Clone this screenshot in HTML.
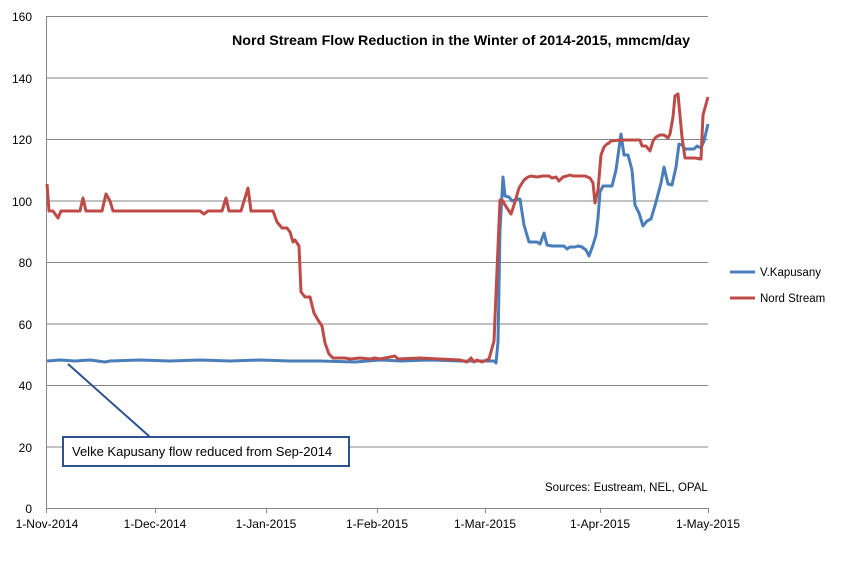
<!DOCTYPE html>
<html><head><meta charset="utf-8"><style>body{margin:0;background:#fff}</style></head><body>
<svg width="843" height="572" xmlns="http://www.w3.org/2000/svg" font-family="Liberation Sans, sans-serif">
<g stroke="#868686" stroke-width="1">
<line x1="46" y1="16.5" x2="708" y2="16.5"/><line x1="46" y1="78" x2="708" y2="78"/>
<line x1="46" y1="139.5" x2="708" y2="139.5"/><line x1="46" y1="201" x2="708" y2="201"/>
<line x1="46" y1="262.5" x2="708" y2="262.5"/><line x1="46" y1="324" x2="708" y2="324"/>
<line x1="46" y1="385.5" x2="708" y2="385.5"/><line x1="46" y1="447" x2="708" y2="447"/>
<line x1="46" y1="508.5" x2="708" y2="508.5"/><line x1="46.5" y1="16" x2="46.5" y2="509"/>
<line x1="46.5" y1="508" x2="46.5" y2="513"/><line x1="155.5" y1="508" x2="155.5" y2="513"/><line x1="266.5" y1="508" x2="266.5" y2="513"/><line x1="377.5" y1="508" x2="377.5" y2="513"/><line x1="485.5" y1="508" x2="485.5" y2="513"/><line x1="600.5" y1="508" x2="600.5" y2="513"/><line x1="708.5" y1="508" x2="708.5" y2="513"/>
</g>
<g font-size="12" text-anchor="end" fill="#000">
<text x="32" y="21">160</text><text x="32" y="83">140</text><text x="32" y="144">120</text><text x="32" y="206">100</text><text x="32" y="267">80</text><text x="32" y="329">60</text><text x="32" y="390">40</text><text x="32" y="452">20</text><text x="32" y="513">0</text>
</g>
<g font-size="12" text-anchor="middle">
<text x="47" y="528">1-Nov-2014</text><text x="155" y="528">1-Dec-2014</text><text x="266" y="528">1-Jan-2015</text><text x="377" y="528">1-Feb-2015</text><text x="485" y="528">1-Mar-2015</text><text x="600" y="528">1-Apr-2015</text><text x="708" y="528">1-May-2015</text>
</g>
<text x="232" y="45" font-size="14" font-weight="bold" textLength="458" lengthAdjust="spacingAndGlyphs">Nord Stream Flow Reduction in the Winter of 2014-2015, mmcm/day</text>
<text x="545" y="491" font-size="11.5">Sources: Eustream, NEL, OPAL</text>
<polyline fill="none" stroke="#4a7ebb" stroke-width="3" stroke-linejoin="round" points="47,361 60,360 75,361 90,360 105,362 110,361 140,360 170,361 200,360 230,361 260,360 290,361 320,361 355,362 380,360 400,361 430,360 460,361 480,361 494,361 496,363 498,342 500,230 503,177 505,196 509,197 512,201 517,199 520,199 524,225 529,242 537,242 540,244 544,233 547,245 552,246 564,246 567,249 570,247 575,247 578,246 582,247 586,250 589,256 593,245 596,235 598,218 600,192 603,186 612,186 616,170 621,134 624,155 628,155 632,170 635,205 639,213 643,226 647,221 651,219 656,202 661,183 664,167 668,184 672,185 676,167 679,144 682,145 685,149 694,149 697,146 701,148 704,141 708,124"/>
<polyline fill="none" stroke="#be4b48" stroke-width="3" stroke-linejoin="round" points="47,184 49,211 53,211 58,218 61,211 80,211 83,198 86,211 102,211 106,194 110,201 113,211 200,211 204,214 208,211 222,211 226,198 229,211 241,211 248,188 251,211 273,211 277,222 282,228 287,228 290,232 293,242 295,240 299,246 301,292 305,297 310,297 314,313 318,320 322,326 325,343 329,354 333,358 345,358 350,359 360,358 370,359 375,358 380,359 395,356 398,359 420,358 440,359 460,360 467,362 471,358 474,362 477,360 482,362 489,359 494,341 500,200 503,201 505,205 511,214 514,205 519,188 524,180 528,177 531,176 537,177 543,176 549,176 552,178 556,177 559,181 563,177 567,176 570,175 573,176 580,176 585,176 590,178 593,183 595,203 598,190 601,155 604,147 607,144 609,143 611,141 620,140 640,140 642,146 646,146 650,151 653,141 656,137 660,135 664,135 668,138 670,134 673,117 675,96 678,94 682,137 685,158 695,158 701,159 703,115 708,97"/>
<line x1="68" y1="364" x2="150" y2="437" stroke="#2f528f" stroke-width="2"/>
<rect x="63" y="437" width="286" height="29" fill="#fff" stroke="#2f528f" stroke-width="2"/>
<text x="72" y="456" font-size="13">Velke Kapusany flow reduced from Sep-2014</text>
<line x1="730" y1="272" x2="755" y2="272" stroke="#4a7ebb" stroke-width="3"/>
<text x="760" y="276" font-size="11.5">V.Kapusany</text>
<line x1="730" y1="298" x2="755" y2="298" stroke="#be4b48" stroke-width="3"/>
<text x="760" y="302" font-size="11.5">Nord Stream</text>
</svg>
</body></html>
